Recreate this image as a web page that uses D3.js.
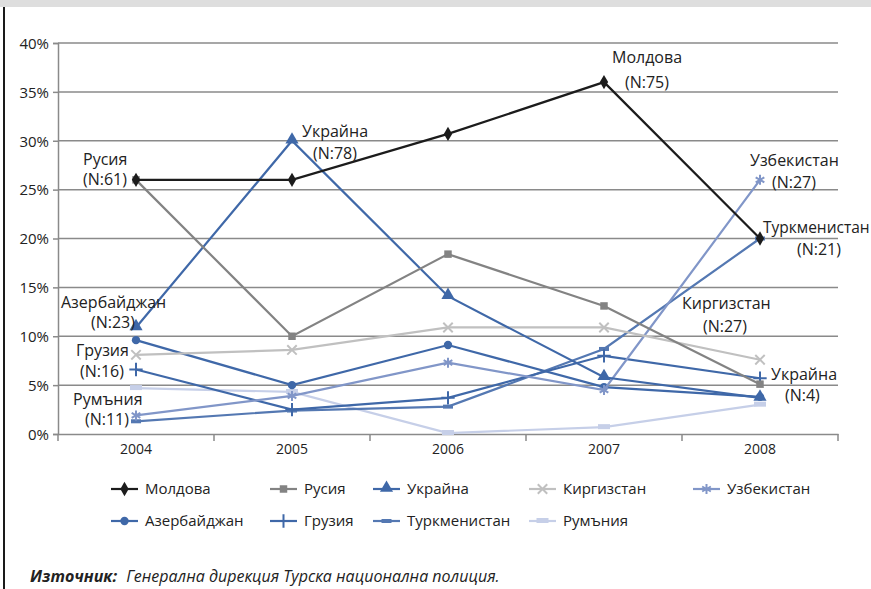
<!DOCTYPE html>
<html><head><meta charset="utf-8">
<script src="https://cdn.jsdelivr.net/npm/d3@7"></script>
<style>
html,body{margin:0;padding:0;background:#fff;}
svg{display:block;font-family:"Open Sans",sans-serif;}
</style></head>
<body>
<script>
const years = ["2004","2005","2006","2007","2008"];
const yTicks = [0,0.05,0.10,0.15,0.20,0.25,0.30,0.35,0.40];
const seriesNames = ["Молдова","Русия","Украйна","Киргизстан","Узбекистан","Азербайджан","Грузия","Туркменистан","Румъния"];
const moldova      = [0.260,0.260,0.307,0.360,0.200];
const russia       = [0.260,0.100,0.184,0.131,0.051];
const ukraine      = [0.109,0.300,0.141,0.058,0.037];
const kyrgyzstan   = [0.081,0.086,0.109,0.109,0.076];
const uzbekistan   = [0.019,0.039,0.073,0.045,0.260];
const azerbaijan   = [0.096,0.050,0.091,0.048,0.038];
const georgia      = [0.066,0.025,0.037,0.080,0.057];
const turkmenistan = [0.013,0.024,0.028,0.087,0.200];
const romania      = [0.047,0.043,0.001,0.007,0.030];
const labelTexts = [
  ["Русия","(N:61)"],["Украйна","(N:78)"],["Молдова","(N:75)"],["Узбекистан","(N:27)"],
  ["Туркменистан","(N:21)"],["Киргизстан","(N:27)"],["Украйна","(N:4)"],
  ["Азербайджан","(N:23)"],["Грузия","(N:16)"],["Румъния","(N:11)"]
];
const sourceBold = "Източник:";
const sourceText = "Генерална дирекция Турска национална полиция.";

const values = [moldova,russia,ukraine,kyrgyzstan,uzbekistan,azerbaijan,georgia,turkmenistan,romania];
const colors = ["#1c1c1c","#838383","#3f68a8","#c0c0c0","#8196c8","#3f68a8","#3f68a8","#5478b2","#c6cfe8"];
const markers = ["diamond","square","triangle","x","asterisk","circle","plus","dash","wdash"];

const W=871,H=589;
const svg=d3.select("body").append("svg").attr("width",W).attr("height",H);

// frame decorations
svg.append("rect").attr("x",0).attr("y",0).attr("width",W).attr("height",7).attr("fill","#dedede");
svg.append("rect").attr("x",3).attr("y",7).attr("width",2).attr("height",H-7).attr("fill","#1a1a1a");

const x=d3.scaleBand().domain(years).range([58,838]);
const cx=d=>x(d)+x.bandwidth()/2;
const y=d3.scaleLinear().domain([0,0.4]).range([434,43]);

// gridlines
svg.append("g").selectAll("line").data(yTicks.filter(t=>t>0)).join("line")
  .attr("x1",58).attr("x2",838).attr("y1",d=>y(d)).attr("y2",d=>y(d))
  .attr("stroke","#8a8a8a").attr("stroke-width",1.5);

// y axis
const ya=svg.append("g").attr("transform","translate(58,0)")
  .call(d3.axisLeft(y).tickValues(yTicks).tickSize(5).tickFormat(d=>Math.round(d*100)+"%"));
ya.select(".domain").attr("stroke","#8a8a8a").attr("stroke-width",1.5);
ya.selectAll(".tick line").attr("stroke","#8a8a8a").attr("stroke-width",1.5);
ya.selectAll("text").attr("font-family","Open Sans").attr("font-size",15).attr("fill","#222").attr("dx",-1).attr("dy","0.35em");

// x axis
const xa=svg.append("g").attr("transform","translate(0,434)")
  .call(d3.axisBottom(x).tickSize(0).tickPadding(10));
xa.select(".domain").attr("stroke","#8a8a8a").attr("stroke-width",1.5);
xa.selectAll("text").attr("font-family","Open Sans").attr("font-size",14).attr("fill","#222");
const bounds=years.map(d=>x(d)).concat([x(years[years.length-1])+x.bandwidth()]);
svg.append("g").selectAll("line").data(bounds).join("line")
  .attr("x1",d=>d).attr("x2",d=>d).attr("y1",434).attr("y2",441)
  .attr("stroke","#8a8a8a").attr("stroke-width",1.5);

function drawMarker(g,type,color,px,py){
  const s=g.append("g").attr("transform",`translate(${px},${py})`);
  if(type==="diamond") s.append("path").attr("d",d3.symbol(d3.symbolDiamond,60)()).attr("fill",color);
  else if(type==="square") s.append("path").attr("d",d3.symbol(d3.symbolSquare,56)()).attr("fill",color);
  else if(type==="triangle") s.append("path").attr("d",d3.symbol(d3.symbolTriangle,75)()).attr("transform","translate(0,-1)").attr("fill",color);
  else if(type==="circle") s.append("path").attr("d",d3.symbol(d3.symbolCircle,55)()).attr("fill",color);
  else if(type==="x") s.append("path").attr("d",d3.symbol(d3.symbolX,60)()).attr("fill","none").attr("stroke",color).attr("stroke-width",2);
  else if(type==="asterisk") s.append("path").attr("d",d3.symbol(d3.symbolAsterisk,70)()).attr("fill","none").attr("stroke",color).attr("stroke-width",2);
  else if(type==="plus") s.append("path").attr("d",d3.symbol(d3.symbolPlus,60)()).attr("fill","none").attr("stroke",color).attr("stroke-width",2);
  else if(type==="dash") s.append("rect").attr("x",-5).attr("y",-2).attr("width",10).attr("height",4).attr("fill",color);
  else if(type==="wdash") s.append("rect").attr("x",-6).attr("y",-3).attr("width",12).attr("height",5).attr("fill",color);
}

const line=d3.line().x((d,i)=>cx(years[i])).y(d=>y(d));
const order=[8,7,6,5,4,3,2,1,0];
order.forEach(k=>{
  const g=svg.append("g");
  g.append("path").attr("d",line(values[k])).attr("fill","none").attr("stroke",colors[k]).attr("stroke-width",2.2);
  values[k].forEach((v,i)=>drawMarker(g,markers[k],colors[k],cx(years[i]),y(v)));
});

// data labels
const labelPos=[[83,165,83,185],[302,137,313,159],[612,63,625,88],[750,166,772,188],
  [763,233,797,255],[682,309,703,332],[771,380,785,401],[61,308,91,328],[76,356,80,377],[73,405,85,425]];
const lg=svg.append("g").attr("font-family","Open Sans").attr("font-size",16).attr("fill","#222");
labelTexts.forEach((t,i)=>{
  const p=labelPos[i];
  const a=lg.append("text").attr("x",p[0]).attr("y",p[1]).text(t[0]);
  if(t[0]==="Туркменистан") a.attr("font-size",15.5);
  lg.append("text").attr("x",p[2]).attr("y",p[3]).text(t[1]);
});

// legend
const legPos=[[111,489],[270,489],[373,489],[529,489],[693,489],[111,521],[270,521],[373,521],[529,521]];
const leg=svg.append("g");
seriesNames.forEach((n,k)=>{
  const [lx,ly]=legPos[k];
  leg.append("line").attr("x1",lx).attr("x2",lx+27).attr("y1",ly).attr("y2",ly).attr("stroke",colors[k]).attr("stroke-width",2.2);
  drawMarker(leg,markers[k],colors[k],lx+13.5,ly);
  leg.append("text").attr("x",lx+34).attr("y",ly).attr("dy","0.35em").attr("font-family","Open Sans").attr("font-size",15).attr("fill","#222").text(n);
});

// source
const src=svg.append("text").attr("x",30).attr("y",582).attr("font-family","Open Sans").attr("font-size",16).attr("font-style","italic").attr("fill","#222");
src.append("tspan").attr("font-weight","bold").text(sourceBold);
src.append("tspan").attr("dx",9).text(sourceText);
</script>
</body></html>
